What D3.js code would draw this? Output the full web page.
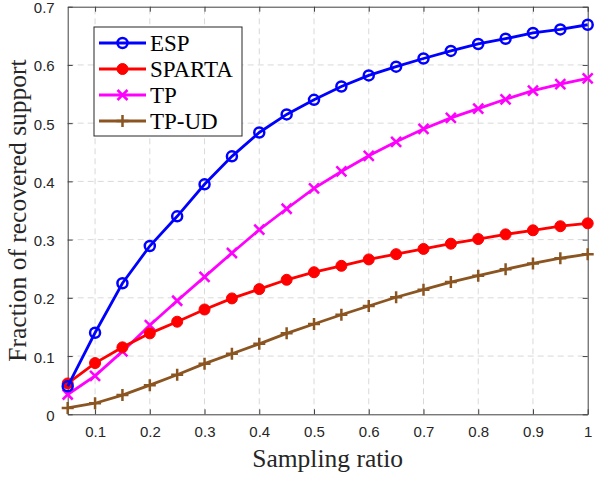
<!DOCTYPE html>
<html>
<head>
<meta charset="utf-8">
<script src="https://cdn.jsdelivr.net/npm/d3@7"></script>
<style>
  body { margin: 0; background: #fff; }
  .tick text { font-family: "Liberation Sans", Arial, sans-serif; font-size: 15px; fill: #262626; }
</style>
</head>
<body>
<div id="chart"></div>
<script>
var width = 599,
    height = 478;

var margin = {left: 67.7, right: 11.3, top: 6.7, bottom: 63.7};

// data
var ratios = [0.05, 0.1, 0.15, 0.2, 0.25, 0.3, 0.35, 0.4, 0.45, 0.5,
              0.55, 0.6, 0.65, 0.7, 0.75, 0.8, 0.85, 0.9, 0.95, 1];
var esp    = [0.048, 0.140, 0.225, 0.289, 0.340, 0.395, 0.443, 0.484, 0.515, 0.540,
              0.563, 0.582, 0.597, 0.611, 0.624, 0.636, 0.645, 0.655, 0.661, 0.669];
var sparta = [0.053, 0.088, 0.115, 0.139, 0.159, 0.180, 0.199, 0.215, 0.231, 0.244,
              0.255, 0.266, 0.275, 0.284, 0.293, 0.301, 0.309, 0.316, 0.323, 0.328];
var tp     = [0.034, 0.066, 0.108, 0.153, 0.195, 0.236, 0.277, 0.317, 0.353, 0.388,
              0.417, 0.444, 0.468, 0.490, 0.509, 0.525, 0.541, 0.556, 0.567, 0.577];
var tpud   = [0.011, 0.019, 0.033, 0.050, 0.068, 0.087, 0.104, 0.121, 0.139, 0.155,
              0.171, 0.186, 0.201, 0.214, 0.227, 0.238, 0.249, 0.259, 0.268, 0.275];
var xTicks = [0.1, 0.2, 0.3, 0.4, 0.5, 0.6, 0.7, 0.8, 0.9, 1];
var yTicks = [0, 0.1, 0.2, 0.3, 0.4, 0.5, 0.6, 0.7];

var series = [
  {name: "ESP",    values: esp,    color: "#0000ff", marker: "circleOpen"},
  {name: "SPARTA", values: sparta, color: "#ff0000", marker: "circleFilled"},
  {name: "TP",     values: tp,     color: "#ff00ff", marker: "cross"},
  {name: "TP-UD",  values: tpud,   color: "#8b5522", marker: "plus"}
];

var svg = d3.select("#chart").append("svg")
    .attr("width", width)
    .attr("height", height);

var x = d3.scaleLinear().domain([0.05, 1]).range([margin.left, width - margin.right]);
var y = d3.scaleLinear().domain([0, 0.7]).range([height - margin.bottom, margin.top]);

// grid
var grid = svg.append("g").attr("stroke", "#d9d9d9").attr("stroke-width", 1)
    .attr("stroke-dasharray", "6,4");
grid.selectAll("line.gx").data(xTicks.slice(0, -1)).enter().append("line")
    .attr("x1", function (d) { return x(d); }).attr("x2", function (d) { return x(d); })
    .attr("y1", y(0)).attr("y2", y(0.7));
grid.selectAll("line.gy").data(yTicks.slice(1, -1)).enter().append("line")
    .attr("y1", function (d) { return y(d); }).attr("y2", function (d) { return y(d); })
    .attr("x1", x(0.05)).attr("x2", x(1));

// axes
svg.append("g")
    .attr("transform", "translate(0," + y(0) + ")")
    .call(d3.axisBottom(x).tickValues(xTicks).tickFormat(d3.format("")).tickSizeInner(-5).tickSizeOuter(0).tickPadding(12));
svg.append("g")
    .attr("class", "yaxis")
    .attr("transform", "translate(" + x(0.05) + ",0)")
    .call(d3.axisLeft(y).tickValues(yTicks).tickFormat(d3.format("")).tickSizeInner(-5).tickSizeOuter(0).tickPadding(13));
svg.selectAll(".yaxis .tick text").attr("dy", "0.4em");
svg.append("g")
    .attr("transform", "translate(0," + y(0.7) + ")")
    .call(d3.axisTop(x).tickValues(xTicks).tickFormat("").tickSizeInner(-5).tickSizeOuter(0));
svg.append("g")
    .attr("transform", "translate(" + x(1) + ",0)")
    .call(d3.axisRight(y).tickValues(yTicks).tickFormat("").tickSizeInner(-5).tickSizeOuter(0));
svg.selectAll(".domain").attr("stroke", "#404040");
svg.selectAll(".tick line").attr("stroke", "#404040");

// lines
var line = d3.line()
    .x(function (d, i) { return x(ratios[i]); })
    .y(function (d) { return y(d); });

function drawMarker(g, type, color, cx, cy) {
  var r = 5;
  if (type === "circleOpen") {
    g.append("circle").attr("cx", cx).attr("cy", cy).attr("r", r)
      .attr("fill", "none").attr("stroke", color).attr("stroke-width", 2.5);
  } else if (type === "circleFilled") {
    g.append("circle").attr("cx", cx).attr("cy", cy).attr("r", r + 0.5)
      .attr("fill", color).attr("stroke", color).attr("stroke-width", 1);
  } else if (type === "cross") {
    g.append("path")
      .attr("d", "M" + (cx - r) + "," + (cy - r) + "L" + (cx + r) + "," + (cy + r) +
                 "M" + (cx - r) + "," + (cy + r) + "L" + (cx + r) + "," + (cy - r))
      .attr("stroke", color).attr("stroke-width", 2.5).attr("fill", "none");
  } else {
    g.append("path")
      .attr("d", "M" + (cx - r - 1) + "," + cy + "L" + (cx + r + 1) + "," + cy +
                 "M" + cx + "," + (cy - r - 1) + "L" + cx + "," + (cy + r + 1))
      .attr("stroke", color).attr("stroke-width", 2.5).attr("fill", "none");
  }
}

var plot = svg.append("g");
series.slice().reverse().forEach(function (s) {
  var g = plot.append("g");
  g.append("path").datum(s.values)
    .attr("d", line).attr("fill", "none")
    .attr("stroke", s.color).attr("stroke-width", 2.8);
  s.values.forEach(function (v, i) {
    drawMarker(g, s.marker, s.color, x(ratios[i]), y(v));
  });
});

// legend
var legend = svg.append("g").attr("transform", "translate(94,27)");
legend.append("rect").attr("width", 148).attr("height", 109)
  .attr("fill", "#fff").attr("stroke", "#262626").attr("stroke-width", 1);
series.forEach(function (s, i) {
  var ly = 16 + i * 26;
  legend.append("line").attr("x1", 5).attr("x2", 52).attr("y1", ly).attr("y2", ly)
    .attr("stroke", s.color).attr("stroke-width", 2.8);
  drawMarker(legend, s.marker, s.color, 28.5, ly);
  legend.append("text").attr("x", 56).attr("y", ly + 8)
    .attr("font-family", "'Liberation Serif', 'Times New Roman', serif")
    .attr("font-size", "23px").attr("fill", "#000").text(s.name);
});

// axis labels
svg.append("text")
  .attr("x", (x(0.05) + x(1)) / 2).attr("y", 467)
  .attr("text-anchor", "middle")
  .attr("font-family", "'Liberation Serif', 'Times New Roman', serif")
  .attr("font-size", "25.5px").attr("fill", "#262626")
  .text("Sampling ratio");
svg.append("text")
  .attr("transform", "translate(26," + (y(0.35)) + ") rotate(-90)")
  .attr("text-anchor", "middle")
  .attr("font-family", "'Liberation Serif', 'Times New Roman', serif")
  .attr("font-size", "25.5px").attr("fill", "#262626")
  .text("Fraction of recovered support");
</script>
</body>
</html>
